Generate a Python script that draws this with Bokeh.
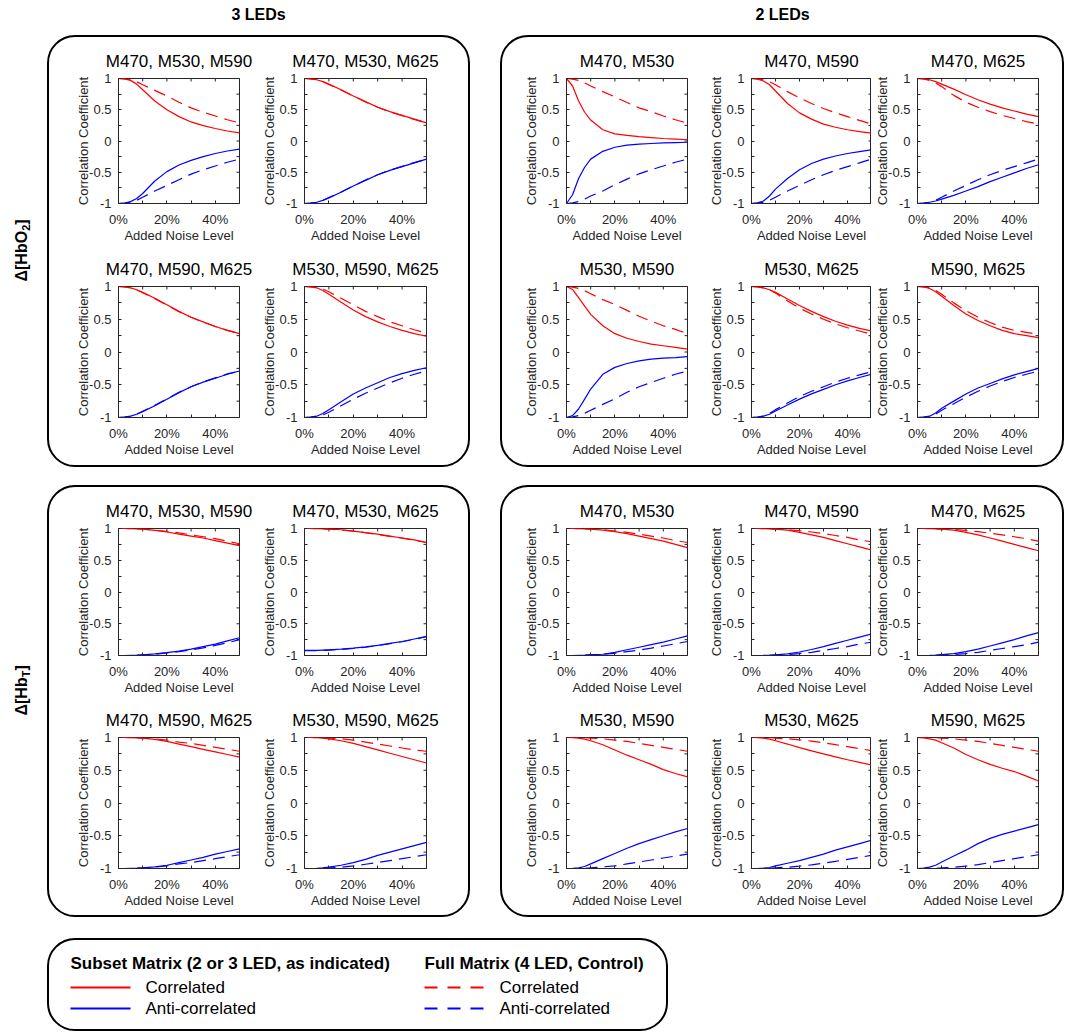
import math
from bokeh.plotting import figure
from bokeh.layouts import row, column
from bokeh.models import Spacer, FixedTicker, Label, Range1d
from bokeh.embed import file_html
from bokeh.resources import INLINE

# ---------------- data ----------------
NOISE = [0, 0.025, 0.05, 0.075, 0.1, 0.15, 0.2, 0.25, 0.3, 0.35, 0.4, 0.45, 0.5]
X_TICKS = [0, 0.2, 0.4]
X_TICK_LABELS = ["0%", "20%", "40%"]
X_MINOR = [0.1, 0.3, 0.5]
Y_TICKS = [-1, -0.5, 0, 0.5, 1]
Y_TICK_LABELS = ["-1", "-0.5", "0", "0.5", "1"]
Y_MINOR = [-0.75, -0.25, 0.25, 0.75]

# Δ[HbO2], 3 LEDs
O3A_TITLE = "M470, M530, M590"
O3A_SUB_COR = [1, 0.995, 0.97, 0.91, 0.82, 0.64, 0.5, 0.39, 0.305, 0.245, 0.2, 0.16, 0.13]
O3A_SUB_ANTI = [-1, -0.995, -0.97, -0.92, -0.84, -0.64, -0.49, -0.385, -0.31, -0.25, -0.2, -0.16, -0.13]
O3A_FULL_COR = [1, 0.995, 0.98, 0.95, 0.9, 0.81, 0.72, 0.62, 0.53, 0.46, 0.4, 0.34, 0.29]
O3A_FULL_ANTI = [-1, -0.995, -0.98, -0.95, -0.9, -0.8, -0.71, -0.62, -0.53, -0.46, -0.4, -0.34, -0.29]

O3B_TITLE = "M470, M530, M625"
O3B_SUB_COR = [1, 0.995, 0.98, 0.95, 0.91, 0.82, 0.72, 0.63, 0.54, 0.47, 0.41, 0.35, 0.29]
O3B_SUB_ANTI = [-1, -0.995, -0.98, -0.95, -0.91, -0.82, -0.72, -0.63, -0.54, -0.47, -0.41, -0.35, -0.29]
O3B_FULL_COR = [1, 0.995, 0.98, 0.95, 0.905, 0.815, 0.72, 0.625, 0.54, 0.465, 0.405, 0.345, 0.29]
O3B_FULL_ANTI = [-1, -0.995, -0.98, -0.95, -0.905, -0.815, -0.72, -0.625, -0.54, -0.465, -0.405, -0.345, -0.29]

O3C_TITLE = "M470, M590, M625"
O3C_SUB_COR = [1, 0.995, 0.98, 0.95, 0.91, 0.82, 0.72, 0.62, 0.53, 0.46, 0.39, 0.33, 0.28]
O3C_SUB_ANTI = [-1, -0.995, -0.98, -0.95, -0.91, -0.82, -0.72, -0.62, -0.53, -0.46, -0.4, -0.34, -0.29]
O3C_FULL_COR = [1, 0.995, 0.98, 0.95, 0.905, 0.815, 0.715, 0.615, 0.53, 0.455, 0.39, 0.33, 0.28]
O3C_FULL_ANTI = [-1, -0.995, -0.98, -0.95, -0.905, -0.815, -0.715, -0.615, -0.53, -0.455, -0.395, -0.335, -0.29]

O3D_TITLE = "M530, M590, M625"
O3D_SUB_COR = [1, 0.995, 0.98, 0.94, 0.88, 0.76, 0.64, 0.54, 0.46, 0.39, 0.33, 0.28, 0.24]
O3D_SUB_ANTI = [-1, -0.995, -0.98, -0.94, -0.88, -0.76, -0.64, -0.55, -0.47, -0.39, -0.33, -0.28, -0.24]
O3D_FULL_COR = [1, 0.995, 0.985, 0.96, 0.92, 0.82, 0.72, 0.62, 0.54, 0.46, 0.4, 0.34, 0.29]
O3D_FULL_ANTI = [-1, -0.995, -0.985, -0.96, -0.92, -0.82, -0.72, -0.63, -0.55, -0.47, -0.4, -0.34, -0.29]

# Δ[HbO2], 2 LEDs
O2A_TITLE = "M470, M530"
O2A_SUB_COR = [1, 0.88, 0.64, 0.46, 0.335, 0.18, 0.115, 0.09, 0.07, 0.055, 0.04, 0.03, 0.02]
O2A_SUB_ANTI = [-1, -0.86, -0.6, -0.42, -0.29, -0.165, -0.1, -0.065, -0.05, -0.04, -0.03, -0.025, -0.02]
O2A_FULL_COR = [1, 0.99, 0.97, 0.93, 0.88, 0.79, 0.705, 0.615, 0.53, 0.47, 0.4, 0.34, 0.285]
O2A_FULL_ANTI = [-1, -0.99, -0.97, -0.93, -0.88, -0.8, -0.7, -0.61, -0.525, -0.46, -0.4, -0.34, -0.29]

O2B_TITLE = "M470, M590"
O2B_SUB_COR = [1, 0.99, 0.96, 0.9, 0.8, 0.6, 0.45, 0.35, 0.27, 0.22, 0.18, 0.15, 0.125]
O2B_SUB_ANTI = [-1, -0.99, -0.96, -0.88, -0.77, -0.6, -0.46, -0.36, -0.29, -0.24, -0.2, -0.17, -0.14]
O2B_FULL_COR = [1, 0.995, 0.98, 0.95, 0.9, 0.79, 0.69, 0.6, 0.52, 0.45, 0.39, 0.33, 0.27]
O2B_FULL_ANTI = [-1, -0.995, -0.98, -0.95, -0.9, -0.8, -0.71, -0.62, -0.54, -0.47, -0.41, -0.35, -0.29]

O2C_TITLE = "M470, M625"
O2C_SUB_COR = [1, 0.995, 0.98, 0.95, 0.91, 0.83, 0.74, 0.66, 0.59, 0.53, 0.48, 0.43, 0.39]
O2C_SUB_ANTI = [-1, -0.995, -0.98, -0.96, -0.93, -0.87, -0.8, -0.73, -0.65, -0.58, -0.51, -0.44, -0.38]
O2C_FULL_COR = [1, 0.995, 0.97, 0.93, 0.87, 0.73, 0.62, 0.54, 0.47, 0.41, 0.36, 0.31, 0.27]
O2C_FULL_ANTI = [-1, -0.995, -0.98, -0.95, -0.9, -0.8, -0.71, -0.62, -0.54, -0.47, -0.41, -0.35, -0.29]

O2D_TITLE = "M530, M590"
O2D_SUB_COR = [1, 0.955, 0.83, 0.7, 0.575, 0.4, 0.28, 0.21, 0.16, 0.12, 0.095, 0.07, 0.045]
O2D_SUB_ANTI = [-1, -0.97, -0.87, -0.72, -0.565, -0.34, -0.235, -0.175, -0.135, -0.11, -0.095, -0.085, -0.07]
O2D_FULL_COR = [1, 0.99, 0.97, 0.935, 0.89, 0.8, 0.725, 0.635, 0.545, 0.47, 0.4, 0.345, 0.28]
O2D_FULL_ANTI = [-1, -0.99, -0.97, -0.935, -0.89, -0.8, -0.715, -0.615, -0.53, -0.465, -0.4, -0.34, -0.29]

O2E_TITLE = "M530, M625"
O2E_SUB_COR = [1, 0.995, 0.98, 0.95, 0.91, 0.81, 0.71, 0.62, 0.54, 0.47, 0.41, 0.36, 0.32]
O2E_SUB_ANTI = [-1, -0.995, -0.98, -0.95, -0.9, -0.81, -0.72, -0.64, -0.57, -0.5, -0.44, -0.39, -0.34]
O2E_FULL_COR = [1, 0.995, 0.98, 0.95, 0.9, 0.78, 0.67, 0.58, 0.5, 0.43, 0.37, 0.32, 0.27]
O2E_FULL_ANTI = [-1, -0.995, -0.98, -0.94, -0.88, -0.78, -0.68, -0.6, -0.53, -0.46, -0.4, -0.35, -0.3]

O2F_TITLE = "M590, M625"
O2F_SUB_COR = [1, 0.995, 0.97, 0.92, 0.85, 0.71, 0.58, 0.48, 0.4, 0.33, 0.28, 0.25, 0.22]
O2F_SUB_ANTI = [-1, -0.995, -0.98, -0.93, -0.86, -0.75, -0.64, -0.55, -0.48, -0.41, -0.35, -0.3, -0.25]
O2F_FULL_COR = [1, 0.995, 0.98, 0.94, 0.88, 0.75, 0.63, 0.53, 0.45, 0.38, 0.33, 0.3, 0.27]
O2F_FULL_ANTI = [-1, -0.995, -0.985, -0.95, -0.89, -0.79, -0.69, -0.6, -0.52, -0.45, -0.39, -0.34, -0.29]

# Δ[HbT], 3 LEDs
T3A_TITLE = "M470, M530, M590"
T3A_SUB_COR = [1, 1, 0.998, 0.995, 0.99, 0.97, 0.945, 0.91, 0.88, 0.85, 0.81, 0.77, 0.73]
T3A_SUB_ANTI = [-1, -1, -0.998, -0.995, -0.99, -0.975, -0.955, -0.93, -0.9, -0.86, -0.82, -0.77, -0.72]
T3A_FULL_COR = [1, 1, 0.998, 0.995, 0.99, 0.975, 0.955, 0.93, 0.9, 0.87, 0.84, 0.8, 0.76]
T3A_FULL_ANTI = [-1, -1, -0.998, -0.995, -0.99, -0.98, -0.96, -0.94, -0.91, -0.88, -0.84, -0.8, -0.75]

T3B_TITLE = "M470, M530, M625"
T3B_SUB_COR = [1, 1, 0.998, 0.995, 0.99, 0.98, 0.96, 0.935, 0.91, 0.88, 0.85, 0.82, 0.78]
T3B_SUB_ANTI = [-0.92, -0.92, -0.92, -0.915, -0.91, -0.9, -0.885, -0.865, -0.84, -0.81, -0.78, -0.74, -0.7]
T3B_FULL_COR = [1, 1, 0.998, 0.995, 0.99, 0.978, 0.958, 0.933, 0.907, 0.877, 0.847, 0.815, 0.78]
T3B_FULL_ANTI = [-0.925, -0.925, -0.924, -0.92, -0.915, -0.905, -0.89, -0.87, -0.845, -0.815, -0.783, -0.745, -0.705]

T3C_TITLE = "M470, M590, M625"
T3C_SUB_COR = [1, 1, 0.998, 0.995, 0.99, 0.97, 0.94, 0.9, 0.86, 0.82, 0.78, 0.74, 0.7]
T3C_SUB_ANTI = [-1, -1, -0.998, -0.995, -0.99, -0.975, -0.95, -0.91, -0.87, -0.83, -0.78, -0.74, -0.7]
T3C_FULL_COR = [1, 1, 0.998, 0.995, 0.99, 0.98, 0.96, 0.93, 0.91, 0.88, 0.85, 0.82, 0.79]
T3C_FULL_ANTI = [-1, -1, -0.998, -0.995, -0.99, -0.98, -0.96, -0.93, -0.91, -0.88, -0.85, -0.82, -0.79]

T3D_TITLE = "M530, M590, M625"
T3D_SUB_COR = [1, 1, 0.998, 0.99, 0.98, 0.95, 0.91, 0.86, 0.81, 0.76, 0.71, 0.66, 0.61]
T3D_SUB_ANTI = [-1, -1, -0.998, -0.99, -0.98, -0.95, -0.91, -0.86, -0.8, -0.75, -0.7, -0.65, -0.6]
T3D_FULL_COR = [1, 1, 0.998, 0.995, 0.99, 0.98, 0.96, 0.93, 0.9, 0.87, 0.84, 0.81, 0.79]
T3D_FULL_ANTI = [-1, -1, -1, -0.995, -0.99, -0.98, -0.96, -0.935, -0.91, -0.88, -0.85, -0.82, -0.79]

# Δ[HbT], 2 LEDs
T2A_TITLE = "M470, M530"
T2A_SUB_COR = [1, 1, 0.998, 0.995, 0.99, 0.975, 0.95, 0.92, 0.88, 0.84, 0.8, 0.75, 0.7]
T2A_SUB_ANTI = [-1, -1, -0.998, -0.995, -0.99, -0.98, -0.95, -0.91, -0.87, -0.83, -0.79, -0.74, -0.69]
T2A_FULL_COR = [1, 1, 0.998, 0.995, 0.99, 0.98, 0.96, 0.94, 0.91, 0.88, 0.85, 0.81, 0.78]
T2A_FULL_ANTI = [-1, -1, -0.998, -0.995, -0.99, -0.98, -0.965, -0.94, -0.915, -0.885, -0.85, -0.815, -0.78]

T2B_TITLE = "M470, M590"
T2B_SUB_COR = [1, 1, 0.998, 0.995, 0.99, 0.975, 0.94, 0.9, 0.86, 0.81, 0.76, 0.71, 0.66]
T2B_SUB_ANTI = [-1, -1, -0.998, -0.995, -0.99, -0.975, -0.945, -0.905, -0.86, -0.81, -0.76, -0.71, -0.66]
T2B_FULL_COR = [1, 1, 0.998, 0.995, 0.99, 0.98, 0.965, 0.945, 0.92, 0.89, 0.86, 0.82, 0.79]
T2B_FULL_ANTI = [-1, -1, -1, -0.998, -0.99, -0.985, -0.97, -0.95, -0.92, -0.89, -0.86, -0.82, -0.79]

T2C_TITLE = "M470, M625"
T2C_SUB_COR = [1, 1, 0.998, 0.995, 0.99, 0.975, 0.94, 0.9, 0.85, 0.8, 0.75, 0.7, 0.65]
T2C_SUB_ANTI = [-1, -1, -0.998, -0.995, -0.985, -0.97, -0.94, -0.9, -0.85, -0.8, -0.75, -0.69, -0.64]
T2C_FULL_COR = [1, 1, 0.998, 0.995, 0.99, 0.985, 0.97, 0.95, 0.925, 0.9, 0.87, 0.84, 0.8]
T2C_FULL_ANTI = [-1, -1, -1, -0.998, -0.99, -0.985, -0.97, -0.95, -0.92, -0.89, -0.86, -0.83, -0.79]

T2D_TITLE = "M530, M590"
T2D_SUB_COR = [1, 0.998, 0.99, 0.975, 0.95, 0.89, 0.81, 0.73, 0.66, 0.59, 0.51, 0.45, 0.4]
T2D_SUB_ANTI = [-1, -0.998, -0.99, -0.97, -0.93, -0.85, -0.77, -0.69, -0.62, -0.56, -0.5, -0.44, -0.39]
T2D_FULL_COR = [1, 1, 1, 0.998, 0.99, 0.98, 0.96, 0.94, 0.91, 0.88, 0.85, 0.82, 0.79]
T2D_FULL_ANTI = [-1, -1, -1, -0.998, -0.99, -0.975, -0.96, -0.93, -0.9, -0.87, -0.84, -0.81, -0.78]

T2E_TITLE = "M530, M625"
T2E_SUB_COR = [1, 0.999, 0.99, 0.975, 0.95, 0.9, 0.845, 0.795, 0.75, 0.705, 0.66, 0.62, 0.58]
T2E_SUB_ANTI = [-1, -1, -0.995, -0.985, -0.96, -0.92, -0.88, -0.83, -0.78, -0.72, -0.67, -0.62, -0.57]
T2E_FULL_COR = [1, 1, 1, 0.998, 0.99, 0.98, 0.965, 0.945, 0.92, 0.89, 0.86, 0.83, 0.8]
T2E_FULL_ANTI = [-1, -1, -1, -0.998, -0.99, -0.98, -0.965, -0.945, -0.92, -0.89, -0.86, -0.83, -0.8]

T2F_TITLE = "M590, M625"
T2F_SUB_COR = [1, 0.995, 0.98, 0.96, 0.92, 0.84, 0.74, 0.66, 0.59, 0.53, 0.48, 0.41, 0.335]
T2F_SUB_ANTI = [-1, -0.995, -0.98, -0.95, -0.9, -0.81, -0.72, -0.62, -0.54, -0.48, -0.43, -0.38, -0.33]
T2F_FULL_COR = [1, 1, 1, 0.998, 0.99, 0.98, 0.96, 0.94, 0.91, 0.88, 0.85, 0.82, 0.79]
T2F_FULL_ANTI = [-1, -1, -1, -0.998, -0.99, -0.98, -0.965, -0.94, -0.91, -0.88, -0.85, -0.82, -0.79]

COL_HEADINGS = ["3 LEDs", "2 LEDs"]
LEGEND_HEADINGS = ["Subset Matrix (2 or 3 LED, as indicated)", "Full Matrix (4 LED, Control)"]
LEGEND_LABELS = ["Correlated", "Anti-correlated"]

# ---------------- style ----------------
FONT = "Liberation Sans"
AX = "#262626"
RED = "#ff0000"
BLUE = "#0000ff"
DASH = "12 7"
LW = 1.2
BOX_STYLE = {"border": "2px solid #000000", "border-radius": "28px", "overflow": "hidden"}


def style_axis(ax, ticks, labels, minor, standoff, label_standoff):
    ax.ticker = FixedTicker(ticks=ticks, minor_ticks=minor)
    ax.major_label_overrides = {t: l for t, l in zip(ticks, labels)}
    ax.axis_line_color = AX
    ax.major_tick_line_color = AX
    ax.minor_tick_line_color = AX
    ax.major_tick_in = 3
    ax.major_tick_out = 0
    ax.minor_tick_in = 3
    ax.minor_tick_out = 0
    ax.major_label_text_font = FONT
    ax.major_label_text_color = AX
    ax.major_label_text_font_size = "13px"
    ax.major_label_standoff = standoff
    ax.axis_label_text_font = FONT
    ax.axis_label_text_font_size = "13px"
    ax.axis_label_text_font_style = "normal"
    ax.axis_label_text_color = AX
    ax.axis_label_standoff = label_standoff


def make_panel(title, sub_cor, sub_anti, full_cor, full_anti, lb, fw, rb, tb, fh, bb):
    p = figure(width=lb + fw + rb, height=tb + fh + bb,
               x_range=Range1d(0, 0.5), y_range=Range1d(-1, 1),
               output_backend="svg", toolbar_location=None, tools="",
               min_border_left=lb, min_border_right=rb,
               min_border_top=tb, min_border_bottom=bb,
               border_fill_color=None, background_fill_color="#ffffff",
               outline_line_color=AX, outline_line_width=1)
    p.title.text = title
    p.title.text_font = FONT
    p.title.text_font_size = "17px"
    p.title.text_font_style = "normal"
    p.title.text_color = "#000000"
    p.title.align = "center"
    p.title.standoff = 16
    p.grid.visible = False
    p.xaxis.axis_label = "Added Noise Level"
    p.yaxis.axis_label = "Correlation Coefficient"
    style_axis(p.xaxis[0], X_TICKS, X_TICK_LABELS, X_MINOR, 8, -2)
    style_axis(p.yaxis[0], Y_TICKS, Y_TICK_LABELS, Y_MINOR, 7, -5)
    # inward box ticks on the top and right edges (half of each dash is clipped by the frame)
    p.scatter(X_TICKS + X_MINOR, [1] * (len(X_TICKS) + len(X_MINOR)), marker="dash",
              angle=math.pi / 2, size=6, line_color=AX, line_width=1)
    p.scatter([0.5] * (len(Y_TICKS) + len(Y_MINOR)), Y_TICKS + Y_MINOR, marker="dash",
              size=6, line_color=AX, line_width=1)
    p.line(NOISE, full_cor, line_color=RED, line_width=LW, line_dash=DASH)
    p.line(NOISE, full_anti, line_color=BLUE, line_width=LW, line_dash=DASH)
    p.line(NOISE, sub_cor, line_color=RED, line_width=LW)
    p.line(NOISE, sub_anti, line_color=BLUE, line_width=LW)
    return p


# column geometry (left border, frame width, right border)
COLS3 = [(69, 121, 17), (48, 122, 42)]
COLS2 = [(64, 121, 18), (46, 120, 0), (46, 121, 24)]
ROWS_TOP = [(41, 131, 36), (41, 131, 48)]
ROWS_BOT = [(41, 131, 38), (40, 131, 47)]


def make_box(panels, cols, rows):
    rws = []
    ncol = len(cols)
    for r, (tb, fh, bb) in enumerate(rows):
        figs = []
        for c, (lb, fw, rb) in enumerate(cols):
            d = panels[r * ncol + c]
            figs.append(make_panel(*d, lb, fw, rb, tb, fh, bb))
        rws.append(row(*figs))
    return column(*rws, styles=BOX_STYLE)


P_O3 = [(O3A_TITLE, O3A_SUB_COR, O3A_SUB_ANTI, O3A_FULL_COR, O3A_FULL_ANTI),
        (O3B_TITLE, O3B_SUB_COR, O3B_SUB_ANTI, O3B_FULL_COR, O3B_FULL_ANTI),
        (O3C_TITLE, O3C_SUB_COR, O3C_SUB_ANTI, O3C_FULL_COR, O3C_FULL_ANTI),
        (O3D_TITLE, O3D_SUB_COR, O3D_SUB_ANTI, O3D_FULL_COR, O3D_FULL_ANTI)]
P_O2 = [(O2A_TITLE, O2A_SUB_COR, O2A_SUB_ANTI, O2A_FULL_COR, O2A_FULL_ANTI),
        (O2B_TITLE, O2B_SUB_COR, O2B_SUB_ANTI, O2B_FULL_COR, O2B_FULL_ANTI),
        (O2C_TITLE, O2C_SUB_COR, O2C_SUB_ANTI, O2C_FULL_COR, O2C_FULL_ANTI),
        (O2D_TITLE, O2D_SUB_COR, O2D_SUB_ANTI, O2D_FULL_COR, O2D_FULL_ANTI),
        (O2E_TITLE, O2E_SUB_COR, O2E_SUB_ANTI, O2E_FULL_COR, O2E_FULL_ANTI),
        (O2F_TITLE, O2F_SUB_COR, O2F_SUB_ANTI, O2F_FULL_COR, O2F_FULL_ANTI)]
P_T3 = [(T3A_TITLE, T3A_SUB_COR, T3A_SUB_ANTI, T3A_FULL_COR, T3A_FULL_ANTI),
        (T3B_TITLE, T3B_SUB_COR, T3B_SUB_ANTI, T3B_FULL_COR, T3B_FULL_ANTI),
        (T3C_TITLE, T3C_SUB_COR, T3C_SUB_ANTI, T3C_FULL_COR, T3C_FULL_ANTI),
        (T3D_TITLE, T3D_SUB_COR, T3D_SUB_ANTI, T3D_FULL_COR, T3D_FULL_ANTI)]
P_T2 = [(T2A_TITLE, T2A_SUB_COR, T2A_SUB_ANTI, T2A_FULL_COR, T2A_FULL_ANTI),
        (T2B_TITLE, T2B_SUB_COR, T2B_SUB_ANTI, T2B_FULL_COR, T2B_FULL_ANTI),
        (T2C_TITLE, T2C_SUB_COR, T2C_SUB_ANTI, T2C_FULL_COR, T2C_FULL_ANTI),
        (T2D_TITLE, T2D_SUB_COR, T2D_SUB_ANTI, T2D_FULL_COR, T2D_FULL_ANTI),
        (T2E_TITLE, T2E_SUB_COR, T2E_SUB_ANTI, T2E_FULL_COR, T2E_FULL_ANTI),
        (T2F_TITLE, T2F_SUB_COR, T2F_SUB_ANTI, T2F_FULL_COR, T2F_FULL_ANTI)]


def blank(w, h):
    p = figure(width=w, height=h, x_range=Range1d(0, w), y_range=Range1d(0, h),
               output_backend="svg", toolbar_location=None, tools="",
               x_axis_type=None, y_axis_type=None, min_border=0,
               outline_line_color=None, border_fill_color=None, background_fill_color=None)
    p.grid.visible = False
    return p


# headings
head = blank(1067, 35)
for txt, xc in zip(COL_HEADINGS, [258, 782]):
    head.add_layout(Label(x=xc, y=21, text=txt, text_align="center", text_baseline="middle",
                          text_font=FONT, text_font_size="16px", text_font_style="bold",
                          text_color="#000000"))


def row_label(pieces, start):
    p = blank(47, 432)
    y = start
    for txt, size, dx, w in pieces:
        p.add_layout(Label(x=21 + dx, y=y, text=txt, angle=math.pi / 2, text_align="left",
                           text_baseline="middle", text_font=FONT, text_font_size=size,
                           text_font_style="bold", text_color="#000000"))
        y += w
    return p


lab_o = row_label([("Δ[HbO", "16px", 0, 50.7), ("2", "11px", 4, 6.1), ("]", "16px", 0, 5.3)], 186)
lab_t = row_label([("Δ[Hb", "16px", 0, 38.2), ("T", "11px", 4, 6.7), ("]", "16px", 0, 5.3)], 202)

box_o3 = make_box(P_O3, COLS3, ROWS_TOP)
box_o2 = make_box(P_O2, COLS2, ROWS_TOP)
box_t3 = make_box(P_T3, COLS3, ROWS_BOT)
box_t2 = make_box(P_T2, COLS2, ROWS_BOT)

# legend
leg = blank(617, 89)
for txt, xl in zip(LEGEND_HEADINGS, [21, 375]):
    leg.add_layout(Label(x=xl, y=66, text=txt, text_align="left", text_baseline="middle",
                         text_font=FONT, text_font_size="17px", text_font_style="bold",
                         text_color="#000000"))
for xl, dash in [(21, "solid"), (375, "13 10")]:
    for color, yy, lbl in zip([RED, BLUE], [42, 21], LEGEND_LABELS):
        leg.line([xl, xl + 60], [yy, yy], line_color=color, line_width=2, line_dash=dash)
        leg.add_layout(Label(x=xl + 75, y=yy, text=lbl, text_align="left", text_baseline="middle",
                             text_font=FONT, text_font_size="17px", text_color="#000000"))
leg_box = column(leg, styles=BOX_STYLE)

layout = column(
    head,
    row(lab_o, box_o3, Spacer(width=30, height=10), box_o2),
    Spacer(width=10, height=18),
    row(lab_t, box_t3, Spacer(width=30, height=10), box_t2),
    Spacer(width=10, height=21),
    row(Spacer(width=47, height=10), leg_box),
)

open("out.html", "w").write(file_html(layout, INLINE))
